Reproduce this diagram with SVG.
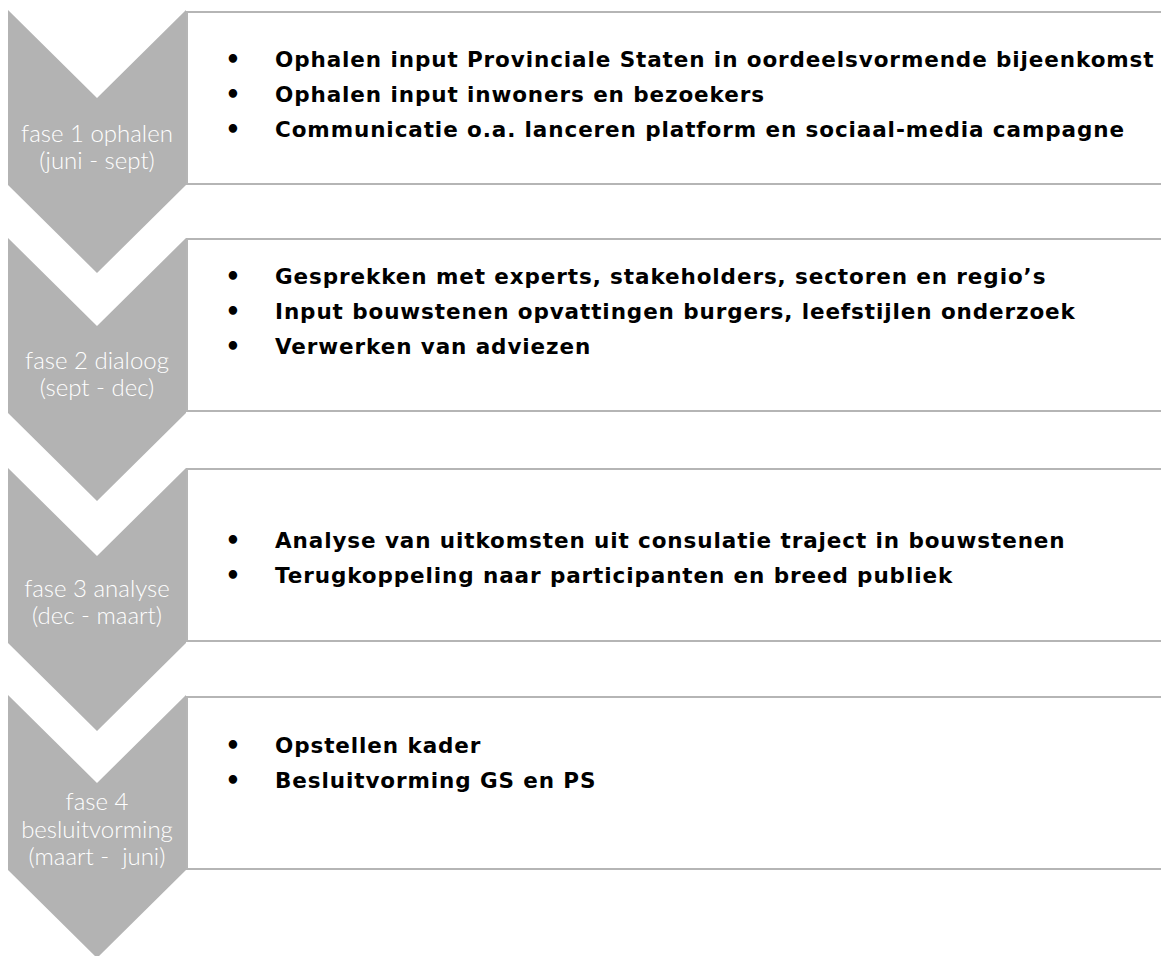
<svg xmlns="http://www.w3.org/2000/svg" width="1161" height="956" viewBox="0 0 1161 956">
<style>
.chev{fill:#b3b3b3}
.box{fill:#ffffff;stroke:#b5b5b5;stroke-width:2}
.lbl{font-family:Lato,"Open Sans","Liberation Sans",sans-serif;font-weight:300;font-size:24px;fill:#ffffff;text-anchor:middle;white-space:pre}
.item{font-family:"DejaVu Sans","Liberation Sans",sans-serif;font-weight:bold;font-size:21.5px;letter-spacing:0.9px;fill:#000000}
.bul{font-family:"DejaVu Sans","Liberation Sans",sans-serif;font-weight:bold;font-size:24px;fill:#000000;text-anchor:middle}
</style>
<rect width="1161" height="956" fill="#ffffff"/>
<g id="phase1">
<rect class="box" x="187" y="12" width="1000" height="172"/>
<polygon class="chev" points="8,10 97,98 186,10 186,185 97,273 8,185"/>
<text class="lbl" x="97" y="142">fase 1 ophalen</text>
<text class="lbl" x="97" y="169">(juni - sept)</text>
<text class="bul" x="233" y="68">•</text>
<text class="item" x="275" y="67">Ophalen input Provinciale Staten in oordeelsvormende bijeenkomst</text>
<text class="bul" x="233" y="103">•</text>
<text class="item" x="275" y="102">Ophalen input inwoners en bezoekers</text>
<text class="bul" x="233" y="138">•</text>
<text class="item" x="275" y="137">Communicatie o.a. lanceren platform en sociaal-media campagne</text>
</g>
<g id="phase2">
<rect class="box" x="187" y="239" width="1000" height="172"/>
<polygon class="chev" points="8,238 97,326 186,238 186,413 97,501 8,413"/>
<text class="lbl" x="97" y="369">fase 2 dialoog</text>
<text class="lbl" x="97" y="396">(sept - dec)</text>
<text class="bul" x="233" y="285">•</text>
<text class="item" x="275" y="284">Gesprekken met experts, stakeholders, sectoren en regio’s</text>
<text class="bul" x="233" y="320">•</text>
<text class="item" x="275" y="319">Input bouwstenen opvattingen burgers, leefstijlen onderzoek</text>
<text class="bul" x="233" y="355">•</text>
<text class="item" x="275" y="354">Verwerken van adviezen</text>
</g>
<g id="phase3">
<rect class="box" x="187" y="469" width="1000" height="172"/>
<polygon class="chev" points="8,468 97,556 186,468 186,643 97,731 8,643"/>
<text class="lbl" x="97" y="597">fase 3 analyse</text>
<text class="lbl" x="97" y="624">(dec - maart)</text>
<text class="bul" x="233" y="549">•</text>
<text class="item" x="275" y="548">Analyse van uitkomsten uit consulatie traject in bouwstenen</text>
<text class="bul" x="233" y="584">•</text>
<text class="item" x="275" y="583">Terugkoppeling naar participanten en breed publiek</text>
</g>
<g id="phase4">
<rect class="box" x="187" y="697" width="1000" height="172"/>
<polygon class="chev" points="8,695 97,783 186,695 186,870 97,958 8,870"/>
<text class="lbl" x="97" y="810">fase 4</text>
<text class="lbl" x="97" y="838">besluitvorming</text>
<text class="lbl" x="97" y="865">(maart -  juni)</text>
<text class="bul" x="233" y="754">•</text>
<text class="item" x="275" y="753">Opstellen kader</text>
<text class="bul" x="233" y="789">•</text>
<text class="item" x="275" y="788">Besluitvorming GS en PS</text>
</g>
<g id="connectors"></g>
</svg>
